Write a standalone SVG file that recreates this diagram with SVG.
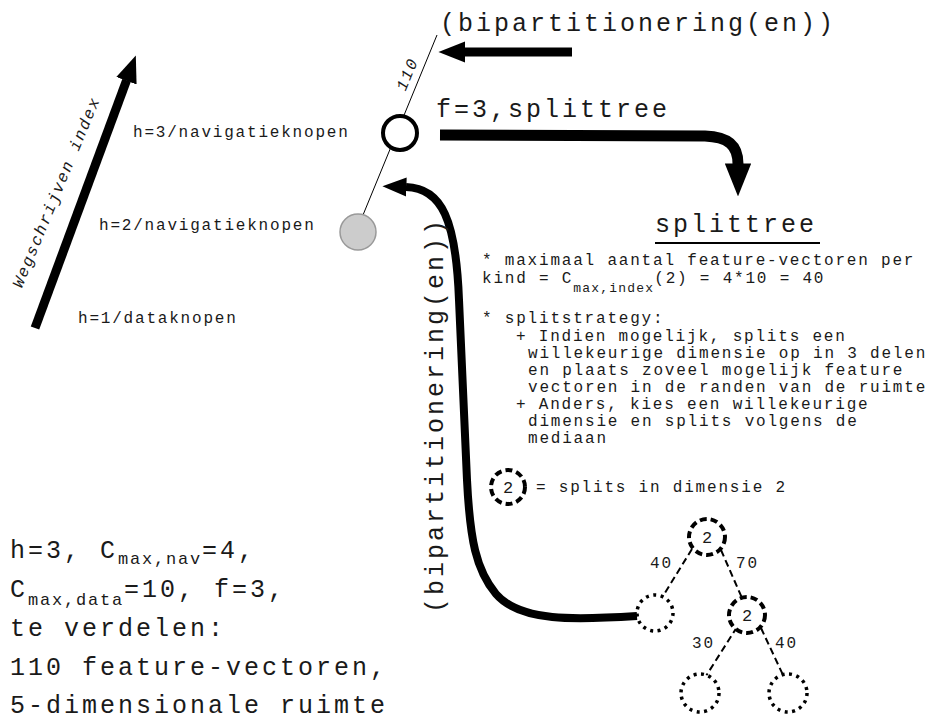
<svg xmlns="http://www.w3.org/2000/svg" width="943" height="720" viewBox="0 0 943 720">
<defs>
<marker id="ah" viewBox="0 -1.2 3 2.4" markerWidth="3" markerHeight="2.4" refX="0.05" refY="0" orient="auto" markerUnits="strokeWidth"><path d="M0,-1.2 L3,0 L0,1.2 z" fill="#000"/></marker>
</defs>
<style>
text{font-family:"Liberation Mono","Courier New",monospace;fill:#1a1a1a}
.s19{font-size:16px;letter-spacing:1.8px}
.s30{font-size:25px;letter-spacing:3px}
.it{font-style:italic}
.big{fill:none;stroke:#000;stroke-linecap:butt;marker-end:url(#ah)}
.dash{stroke:#000;stroke-width:4;stroke-dasharray:7 4;fill:#fff}
.dot{stroke:#000;stroke-width:3.5;stroke-dasharray:3 4.5;fill:#fff}
.edge{stroke:#000;stroke-width:2;stroke-dasharray:7 4;fill:none}
.num{font-size:17px;text-anchor:middle}
</style>
<rect width="943" height="720" fill="#fff"/>

<g id="connectors">
<path class="big" stroke-width="9" d="M35,328 L126.6,80.3"/>
<line x1="437" y1="35" x2="363" y2="215" stroke="#000" stroke-width="1"/>
<path class="big" stroke-width="9" d="M572,52 L465,52"/>
<path class="big" stroke-width="11" d="M440,135 L705,136 C728,137 738,145 738,164"/>
<path class="big" stroke-width="8" d="M637,616 C575,620 520,622 496,594 C476,570 470,540 467,480 L459,300 C456,220 442,188 406,187"/>
<line class="edge" x1="692" y1="549" x2="663" y2="596"/>
<line class="edge" x1="721" y1="550" x2="742" y2="598"/>
<line class="edge" x1="737" y1="627" x2="706" y2="676"/>
<line class="edge" x1="761" y1="628" x2="783" y2="675"/>
</g>

<g id="axis-label">
<text class="s19 it" text-anchor="middle" transform="translate(61,194) rotate(-67.5)">Wegschrijven index</text>
<text class="s19 it" text-anchor="middle" transform="translate(412,76) rotate(-68)">110</text>
</g>

<g id="levels">
<text class="s19" x="133" y="137">h=3/navigatieknopen</text>
<text class="s19" x="99" y="230">h=2/navigatieknopen</text>
<text class="s19" x="78" y="323">h=1/dataknopen</text>
</g>

<g id="node-h3"><circle cx="400" cy="133" r="17" fill="#fff" stroke="#000" stroke-width="4"/></g>
<g id="node-h2"><circle cx="358" cy="232" r="18" fill="#ccc" stroke="#999" stroke-width="1.5"/></g>

<g id="labels">
<text class="s30" x="440" y="31">(bipartitionering(en))</text>
<text class="s30" x="436" y="117">f=3,splittree</text>
<text class="s30" text-anchor="middle" transform="translate(443,415) rotate(-90)">(bipartitionering(en))</text>
</g>

<g id="splittree-title">
<text class="s30" x="655" y="232">splittree</text>
<line x1="655" y1="243" x2="820" y2="243" stroke="#000" stroke-width="2"/>
</g>

<g id="splittree-notes">
<text class="s19" x="482" y="265">* maximaal aantal feature-vectoren per</text>
<text class="s19" x="482" y="283">kind = C<tspan font-size="13" letter-spacing="1.2" dy="9">max,index</tspan><tspan font-size="16" letter-spacing="1.8" dy="-9">(2) = 4*10 = 40</tspan></text>
<text class="s19" x="482" y="323">* splitstrategy:</text>
<text class="s19" x="516" y="341">+ Indien mogelijk, splits een</text>
<text class="s19" x="528" y="358">willekeurige dimensie op in 3 delen</text>
<text class="s19" x="528" y="375">en plaats zoveel mogelijk feature</text>
<text class="s19" x="528" y="392">vectoren in de randen van de ruimte</text>
<text class="s19" x="516" y="409">+ Anders, kies een willekeurige</text>
<text class="s19" x="528" y="426">dimensie en splits volgens de</text>
<text class="s19" x="528" y="443">mediaan</text>
</g>

<g id="legend">
<circle class="dash" cx="508" cy="487" r="17"/>
<text class="num" x="508" y="493">2</text>
<text class="s19" x="536" y="492">= splits in dimensie 2</text>
</g>

<g id="params">
<text class="s30" x="10" y="558">h=3, C<tspan font-size="17" letter-spacing="1.8" dy="6">max,nav</tspan><tspan font-size="25" letter-spacing="3" dy="-6">=4,</tspan></text>
<text class="s30" x="10" y="597">C<tspan font-size="17" letter-spacing="1.8" dy="8">max,data</tspan><tspan font-size="25" letter-spacing="3" dy="-8">=10, f=3,</tspan></text>
<text class="s30" x="10" y="636">te verdelen:</text>
<text class="s30" x="10" y="675">110 feature-vectoren,</text>
<text class="s30" x="10" y="713">5-dimensionale ruimte</text>
</g>

<g id="tree-root"><circle class="dash" cx="707" cy="537" r="18"/><text class="num" x="707" y="543">2</text></g>
<g id="tree-left"><circle class="dot" cx="655" cy="613" r="18"/></g>
<g id="tree-mid"><circle class="dash" cx="747" cy="615" r="18"/><text class="num" x="747" y="621">2</text></g>
<g id="tree-bl"><circle class="dot" cx="700" cy="693" r="19"/></g>
<g id="tree-br"><circle class="dot" cx="788" cy="693" r="19"/></g>

<g id="edge-labels">
<text class="s19" x="650" y="568">40</text>
<text class="s19" x="736" y="568">70</text>
<text class="s19" x="692" y="648">30</text>
<text class="s19" x="775" y="648">40</text>
</g>
</svg>
